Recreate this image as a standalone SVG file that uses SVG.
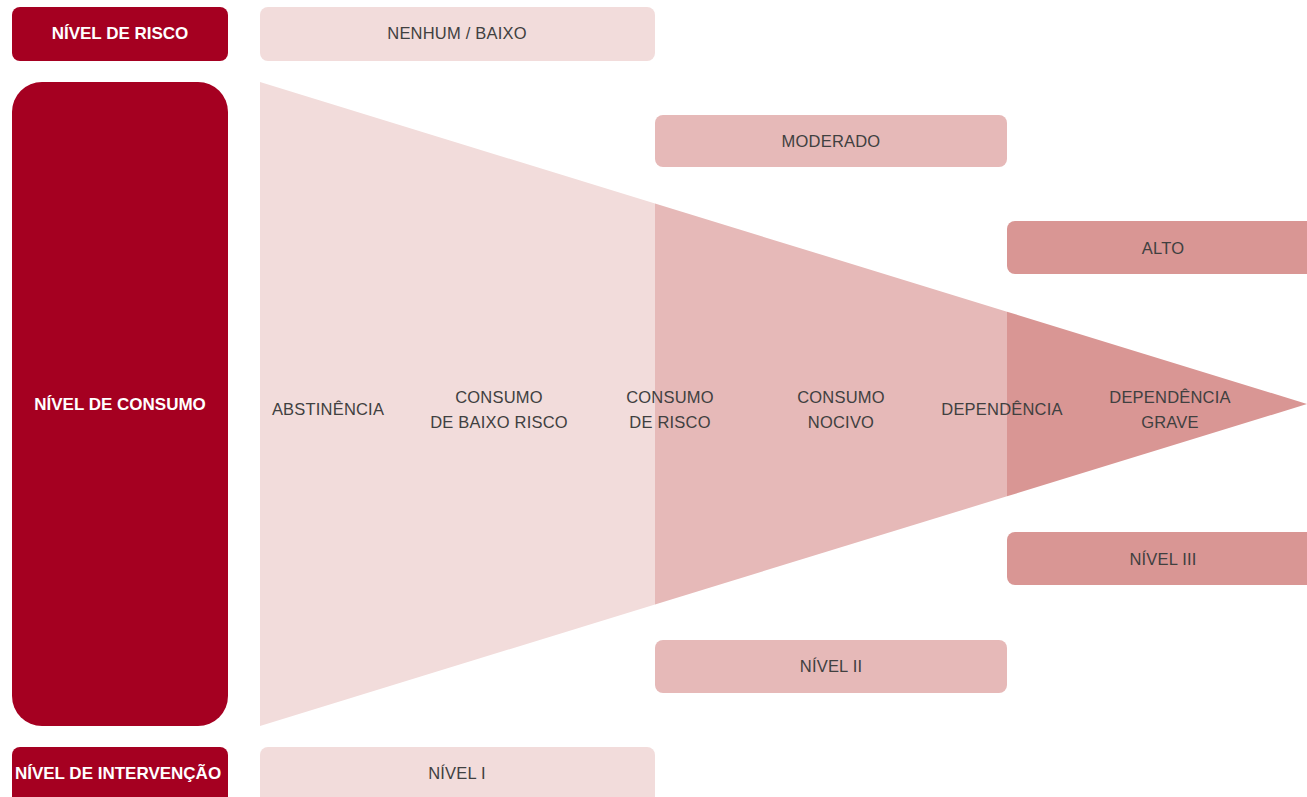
<svg xmlns="http://www.w3.org/2000/svg" width="1307" height="797" viewBox="0 0 1307 797">
<style>
.hdr{fill:#a50021}
.hl{fill:#ffffff;font-family:"Liberation Sans",Arial,sans-serif;font-weight:bold;font-size:17px;text-anchor:middle}
.t{fill:#404040;font-family:"Liberation Sans",Arial,sans-serif;font-size:16.5px;letter-spacing:0.2px;text-anchor:middle}
.c1{fill:#f2dcdb}
.c2{fill:#e6b9b8}
.c3{fill:#d99694}
</style>
<rect width="1307" height="797" fill="#ffffff"/>
<g id="triangle">
<polygon class="c1" points="260,82 655,203.5 655,604.5 260,726"/>
<polygon class="c2" points="655,203.5 1007,311.7 1007,496.3 655,604.5"/>
<polygon class="c3" points="1007,311.7 1307,404 1007,496.3"/>
</g>
<g id="connectors"></g>
<g id="nivel-risco"><rect class="hdr" x="12" y="7" width="216" height="54" rx="8"/><text class="hl" x="120" y="39">NÍVEL DE RISCO</text></g>
<g id="nivel-consumo"><rect class="hdr" x="12" y="82" width="216" height="644" rx="30"/><text class="hl" x="120" y="410">NÍVEL DE CONSUMO</text></g>
<g id="nivel-intervencao"><rect class="hdr" x="12" y="747" width="216" height="60" rx="8"/><text class="hl" x="118" y="779">NÍVEL DE INTERVENÇÃO</text></g>
<g id="nenhum-baixo"><rect class="c1" x="260" y="7" width="395" height="54" rx="8"/><text class="t" x="457" y="39">NENHUM / BAIXO</text></g>
<g id="moderado"><rect class="c2" x="655" y="115" width="352" height="52" rx="8"/><text class="t" x="831" y="147">MODERADO</text></g>
<g id="alto"><rect class="c3" x="1007" y="221" width="320" height="53" rx="8"/><text class="t" x="1163" y="254">ALTO</text></g>
<g id="nivel-iii"><rect class="c3" x="1007" y="532" width="320" height="53" rx="8"/><text class="t" x="1163" y="565">NÍVEL III</text></g>
<g id="nivel-ii"><rect class="c2" x="655" y="640" width="352" height="53" rx="8"/><text class="t" x="831" y="672">NÍVEL II</text></g>
<g id="nivel-i"><rect class="c1" x="260" y="747" width="395" height="60" rx="8"/><text class="t" x="457" y="779">NÍVEL I</text></g>
<g id="abstinencia"><text class="t" x="328" y="415">ABSTINÊNCIA</text></g>
<g id="consumo-baixo-risco"><text class="t" x="499" y="403">CONSUMO</text><text class="t" x="499" y="428">DE BAIXO RISCO</text></g>
<g id="consumo-risco"><text class="t" x="670" y="403">CONSUMO</text><text class="t" x="670" y="428">DE RISCO</text></g>
<g id="consumo-nocivo"><text class="t" x="841" y="403">CONSUMO</text><text class="t" x="841" y="428">NOCIVO</text></g>
<g id="dependencia"><text class="t" x="1002" y="415">DEPENDÊNCIA</text></g>
<g id="dependencia-grave"><text class="t" x="1170" y="403">DEPENDÊNCIA</text><text class="t" x="1170" y="428">GRAVE</text></g>
</svg>
